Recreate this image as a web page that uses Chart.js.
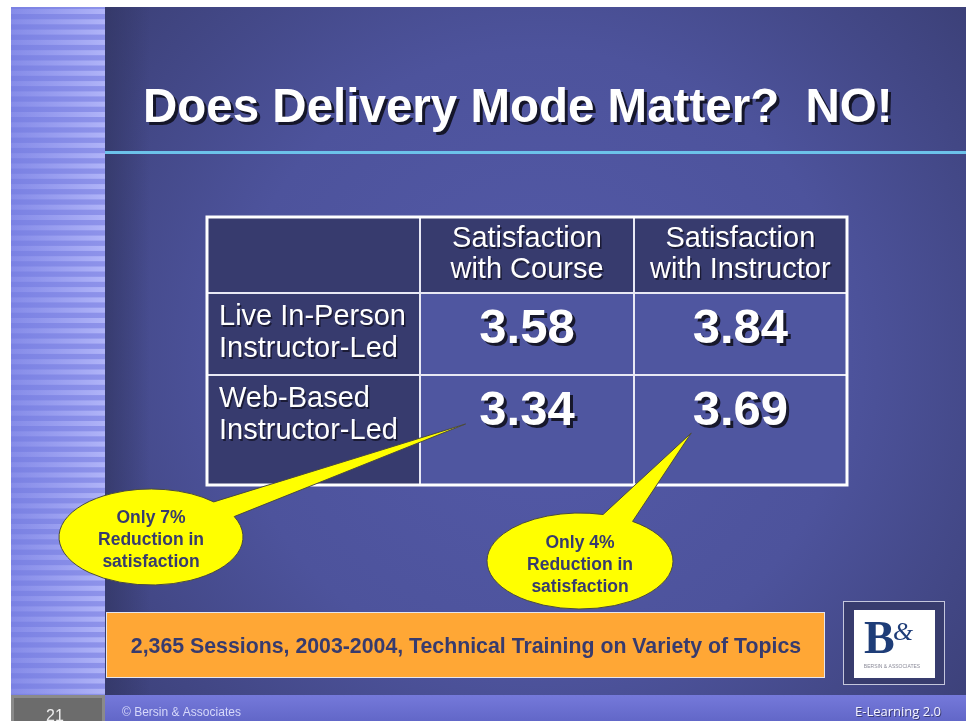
<!DOCTYPE html>
<html>
<head>
<meta charset="utf-8">
<script src="https://cdn.jsdelivr.net/npm/chart.js@4.4.1/dist/chart.umd.min.js"></script>
<style>
html, body { margin: 0; padding: 0; background: #fff; overflow: hidden; }
canvas { display: block; }
</style>
</head>
<body>
<canvas id="grafico" width="966" height="721"></canvas>
<script>
// dados do slide
var titulo = "Does Delivery Mode Matter?  NO!";
var cabecalhos = [["Satisfaction", "with Course"], ["Satisfaction", "with Instructor"]];
var modos = [["Live In-Person", "Instructor-Led"], ["Web-Based", "Instructor-Led"]];
var satisfacaoCurso = [3.58, 3.34];
var satisfacaoInstrutor = [3.84, 3.69];
var balao1 = ["Only 7%", "Reduction in", "satisfaction"];
var balao2 = ["Only 4%", "Reduction in", "satisfaction"];
var nota = "2,365 Sessions, 2003-2004, Technical Training on Variety of Topics";
var numeroSlide = "21";
var copyright = "\u00A9 Bersin & Associates";
var curso = "E-Learning 2.0";

// layout da tabela (unidades da escala y = px)
var limitesLinhas = [0, 76, 158, 268];
var AZUL_ESCURO = '#373b6e';
var AZUL_CELULA = '#4f56a0';
var TEXTO_ESCURO = '#373b6e';

// pontos dos valores: x = coluna, y = linha da base do texto
var pontos = [];
modos.forEach(function (m, r) {
    pontos.push({ x: 1.5, y: limitesLinhas[r + 1] + 50, v: satisfacaoCurso[r] });
    pontos.push({ x: 2.5, y: limitesLinhas[r + 1] + 50, v: satisfacaoInstrutor[r] });
});

function escreve(ctx, txt, x, y, font, cor, align, sombra, dx) {
    ctx.save();
    ctx.font = font;
    ctx.textAlign = align || 'left';
    ctx.textBaseline = 'alphabetic';
    if (sombra) {
        ctx.fillStyle = sombra;
        ctx.fillText(txt, x + (dx || 2), y + (dx || 2));
    }
    ctx.fillStyle = cor;
    ctx.fillText(txt, x, y);
    ctx.restore();
}

function desenhaBalao(ctx, cx, cy, rx, ry, a1, a2, ponta, linhas, yLinhas) {
    ctx.save();
    ctx.beginPath();
    ctx.ellipse(cx, cy, rx, ry, 0, a2, a1 + Math.PI * 2);
    ctx.lineTo(ponta.x, ponta.y);
    ctx.closePath();
    ctx.fillStyle = '#ffff00';
    ctx.fill();
    ctx.lineWidth = 1;
    ctx.strokeStyle = '#4a4a40';
    ctx.stroke();
    ctx.restore();
    linhas.forEach(function (l, i) {
        escreve(ctx, l, cx, yLinhas[i], 'bold 17.5px "Liberation Sans", Arial, sans-serif', TEXTO_ESCURO, 'center');
    });
}

var pluginSlide = {
    id: 'slide',
    beforeDraw: function (chart) {
        var ctx = chart.ctx;
        ctx.save();
        ctx.fillStyle = '#ffffff';
        ctx.fillRect(0, 0, 966, 721);

        // faixa listrada à esquerda
        var gl = ctx.createLinearGradient(11, 0, 105, 0);
        gl.addColorStop(0, '#7a81e3');
        gl.addColorStop(1, '#8e93ea');
        ctx.fillStyle = gl;
        ctx.fillRect(11, 7, 94, 688);
        for (var y = 9; y < 695; y += 10.3) {
            var gs = ctx.createLinearGradient(11, 0, 105, 0);
            gs.addColorStop(0, 'rgba(150,155,240,0.4)');
            gs.addColorStop(1, 'rgba(176,180,248,1)');
            ctx.fillStyle = gs;
            ctx.fillRect(11, y, 94, 5);
        }

        // painel principal
        var gr = ctx.createRadialGradient(540, 360, 40, 540, 360, 640);
        gr.addColorStop(0, '#5359a7');
        gr.addColorStop(0.45, '#4d539c');
        gr.addColorStop(1, '#363a6c');
        ctx.fillStyle = gr;
        ctx.fillRect(105, 7, 861, 688);
        var gb = ctx.createLinearGradient(105, 0, 150, 0);
        gb.addColorStop(0, 'rgba(50,54,100,0.7)');
        gb.addColorStop(1, 'rgba(50,54,100,0)');
        ctx.fillStyle = gb;
        ctx.fillRect(105, 7, 45, 688);

        // linha azul clara
        ctx.fillStyle = '#6cc2ea';
        ctx.fillRect(105, 151, 861, 3);

        // rodapé
        var gf = ctx.createLinearGradient(0, 695, 0, 721);
        gf.addColorStop(0, '#7579da');
        gf.addColorStop(1, '#6267c8');
        ctx.fillStyle = gf;
        ctx.fillRect(105, 695, 861, 26);
        ctx.fillStyle = '#8a8a8a';
        ctx.fillRect(11, 695, 94, 26);
        ctx.fillStyle = '#6c6c6c';
        ctx.fillRect(14, 698, 88, 23);
        ctx.restore();

        escreve(ctx, titulo, 143, 122, 'bold 47.5px "Liberation Sans", Arial, sans-serif', '#ffffff', 'left', '#15162a', 3);
    },
    beforeDatasetsDraw: function (chart) {
        var ctx = chart.ctx;
        var sx = chart.scales.x, sy = chart.scales.y;
        ctx.save();
        for (var r = 0; r < 3; r++) {
            for (var c = 0; c < 3; c++) {
                var x0 = sx.getPixelForValue(c), x1 = sx.getPixelForValue(c + 1);
                var y0 = sy.getPixelForValue(limitesLinhas[r]), y1 = sy.getPixelForValue(limitesLinhas[r + 1]);
                ctx.fillStyle = (r === 0 || c === 0) ? AZUL_ESCURO : AZUL_CELULA;
                ctx.fillRect(x0, y0, x1 - x0, y1 - y0);
            }
        }
        // grade
        ctx.strokeStyle = '#e8e8f4';
        ctx.lineWidth = 2;
        for (var i = 1; i < 3; i++) {
            var gx = Math.round(sx.getPixelForValue(i));
            ctx.beginPath();
            ctx.moveTo(gx, sy.getPixelForValue(0));
            ctx.lineTo(gx, sy.getPixelForValue(limitesLinhas[3]));
            ctx.stroke();
            var gy = Math.round(sy.getPixelForValue(limitesLinhas[i]));
            ctx.beginPath();
            ctx.moveTo(sx.getPixelForValue(0), gy);
            ctx.lineTo(sx.getPixelForValue(3), gy);
            ctx.stroke();
        }
        ctx.strokeStyle = '#ffffff';
        ctx.lineWidth = 3;
        var a = chart.chartArea;
        ctx.strokeRect(a.left, a.top, a.right - a.left, a.bottom - a.top);
        ctx.restore();
    },
    afterDatasetsDraw: function (chart) {
        var ctx = chart.ctx;
        var sx = chart.scales.x, sy = chart.scales.y;
        var fonteNormal = '29px "Liberation Sans", Arial, sans-serif';

        cabecalhos.forEach(function (h, c) {
            var cx = sx.getPixelForValue(c + 1.5);
            escreve(ctx, h[0], cx, sy.getPixelForValue(30), fonteNormal, '#ffffff', 'center', 'rgba(20,20,40,0.8)', 1.5);
            escreve(ctx, h[1], cx, sy.getPixelForValue(61), fonteNormal, '#ffffff', 'center', 'rgba(20,20,40,0.8)', 1.5);
        });
        modos.forEach(function (m, r) {
            var x0 = sx.getPixelForValue(0) + 12;
            escreve(ctx, m[0], x0, sy.getPixelForValue(limitesLinhas[r + 1] + 32), fonteNormal, '#ffffff', 'left', 'rgba(20,20,40,0.8)', 1.5);
            escreve(ctx, m[1], x0, sy.getPixelForValue(limitesLinhas[r + 1] + 64), fonteNormal, '#ffffff', 'left', 'rgba(20,20,40,0.8)', 1.5);
        });

        var meta = chart.getDatasetMeta(0);
        meta.data.forEach(function (el, i) {
            escreve(ctx, pontos[i].v.toFixed(2), el.x, el.y, 'bold 49px "Liberation Sans", Arial, sans-serif', '#ffffff', 'center', '#17182c', 3);
        });

        // balões
        desenhaBalao(ctx, 151, 537, 92, 48, -0.82, -0.44,
            { x: sx.getPixelForValue(1.212), y: sy.getPixelForValue(207) },
            balao1, [523, 545, 567]);
        desenhaBalao(ctx, 580, 561, 93, 48, -1.32, -0.97,
            { x: sx.getPixelForValue(2.27), y: sy.getPixelForValue(216) },
            balao2, [548, 570, 592]);

        // caixa laranja
        ctx.save();
        ctx.fillStyle = '#ffa735';
        ctx.fillRect(107, 613, 717, 64);
        ctx.strokeStyle = '#e6e6ee';
        ctx.lineWidth = 1;
        ctx.strokeRect(106.5, 612.5, 718, 65);
        ctx.restore();
        escreve(ctx, nota, 466, 653, 'bold 21.3px "Liberation Sans", Arial, sans-serif', TEXTO_ESCURO, 'center');

        // logo
        ctx.save();
        ctx.fillStyle = '#383c6e';
        ctx.fillRect(843, 601, 102, 84);
        ctx.strokeStyle = '#c4c6dc';
        ctx.lineWidth = 1;
        ctx.strokeRect(843.5, 601.5, 101, 83);
        ctx.fillStyle = '#ffffff';
        ctx.fillRect(854, 610, 81, 68);
        ctx.restore();
        escreve(ctx, 'B', 864, 653, 'bold 46px "Liberation Serif", "DejaVu Serif", serif', '#1e3d78', 'left');
        escreve(ctx, '&', 893, 640, 'italic 26px "Liberation Serif", "DejaVu Serif", serif', '#1e3d78', 'left');
        escreve(ctx, 'BERSIN & ASSOCIATES', 892, 668, '5px "Liberation Sans", Arial, sans-serif', '#8a8a98', 'center');

        // rodapé textos
        escreve(ctx, numeroSlide, 55, 721, '16px "Liberation Sans", Arial, sans-serif', '#eeeeee', 'center');
        escreve(ctx, copyright, 122, 716, '12px "Liberation Sans", Arial, sans-serif', '#d6d8fa', 'left');
        escreve(ctx, curso, 898, 716, '13px "Open Sans", "Liberation Sans", sans-serif', '#f4f4ff', 'center', 'rgba(30,30,60,0.6)', 1);
    }
};

var ctx = document.getElementById("grafico").getContext("2d");
var grafico = new Chart(ctx, {
    type: 'scatter',
    data: {
        datasets: [{
            label: 'Satisfaction',
            data: pontos,
            pointRadius: 0,
            showLine: false
        }]
    },
    options: {
        responsive: false,
        animation: false,
        layout: {
            padding: { left: 207, top: 217, right: 119, bottom: 236 }
        },
        scales: {
            x: { display: false, min: 0, max: 3 },
            y: { display: false, min: 0, max: limitesLinhas[3], reverse: true }
        },
        plugins: {
            legend: { display: false },
            tooltip: { enabled: false }
        }
    },
    plugins: [pluginSlide]
});
</script>
</body>
</html>
